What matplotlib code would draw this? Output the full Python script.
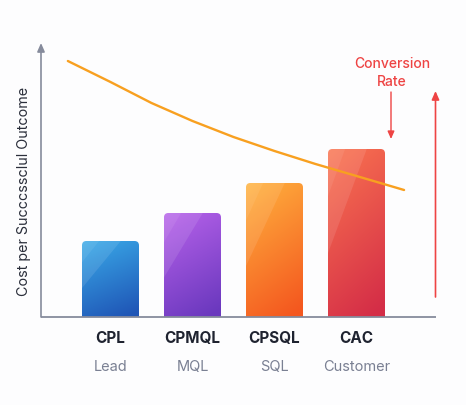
import numpy as np
import matplotlib
matplotlib.use("Agg")
import matplotlib.pyplot as plt
from matplotlib.patches import FancyBboxPatch, Polygon
from matplotlib.colors import to_rgb

# ---- data ----
categories = ["CPL", "CPMQL", "CPSQL", "CAC"]
stages = ["Lead", "MQL", "SQL", "Customer"]
costs = [76, 104, 134, 168]
top_colors = ["#3AAAE8", "#B762EA", "#FFB23E", "#FA7450"]
bottom_colors = ["#1F55B6", "#6A38BE", "#F4571F", "#D42D47"]
rate_x = [-0.52, 0.0, 0.5, 1.0, 1.5, 2.0, 2.5, 3.0, 3.58]
rate_y = [256, 235, 214, 196, 180, 166, 153, 141, 127]

plt.rcParams['font.family'] = ['Inter', 'DejaVu Sans']

W, H = 466, 406
fig = plt.figure(figsize=(W / 100, H / 100), dpi=100)
fig.patch.set_facecolor("#FDFDFE")
ax = fig.add_axes([41 / W, (H - 318) / H, 395 / W, 274 / H])
ax.set_facecolor("none")
px_per_unit = 82.0
x0 = -(110.5 - 41) / px_per_unit
ax.set_xlim(x0, x0 + 395 / px_per_unit)
ax.set_ylim(0, 274)
for s in ax.spines.values():
    s.set_visible(False)
ax.set_xticks([])
ax.set_yticks([])

xs = np.arange(len(categories))
bw = 57 / px_per_unit
bars = ax.bar(xs, costs, width=bw, color="none", edgecolor="none")

r_x = 4.5 / px_per_unit
aspect = 4.5 / r_x
for i, b in enumerate(bars):
    bx, by, w, h = b.get_x(), b.get_y(), b.get_width(), b.get_height()
    clip = FancyBboxPatch((bx, by - 10), w, h + 10,
                          boxstyle=f"round,pad=0,rounding_size={r_x}",
                          mutation_aspect=aspect, transform=ax.transData,
                          facecolor="none", edgecolor="none")
    ax.add_patch(clip)
    n = 100
    u = np.linspace(0, 1, n)[None, :]
    v = np.linspace(1, 0, n)[:, None]
    t = np.clip(0.8 * (1 - v) + 0.25 * u, 0, 1)
    c0 = np.array(to_rgb(top_colors[i]))
    c1 = np.array(to_rgb(bottom_colors[i]))
    img = c0[None, None, :] * (1 - t[..., None]) + c1[None, None, :] * t[..., None]
    im = ax.imshow(img, extent=(bx, bx + w, by, by + h), origin="upper",
                   aspect="auto", zorder=2, interpolation="bilinear")
    im.set_clip_path(clip)
    # light streaks
    p1 = Polygon([(bx, by + h), (bx + 0.68 * w, by + h), (bx, by + 0.38 * h)],
                 closed=True, facecolor="white", alpha=0.10, edgecolor="none", zorder=3)
    ax.add_patch(p1)
    p1.set_clip_path(clip)
    p2 = Polygon([(bx, by + h), (bx + 0.3 * w, by + h), (bx, by + 0.72 * h)],
                 closed=True, facecolor="white", alpha=0.07, edgecolor="none", zorder=3)
    ax.add_patch(p2)
    p2.set_clip_path(clip)

# axes lines
axis_col = "#868B9C"
ax.plot([x0, x0 + 395 / px_per_unit], [0, 0], color=axis_col, lw=1.3,
        clip_on=False, zorder=4, solid_capstyle="butt")
ax.annotate("", xy=(x0, 274), xytext=(x0, 0),
            arrowprops=dict(arrowstyle="-|>,head_length=0.5,head_width=0.22",
                            color=axis_col, lw=1.2, shrinkA=0, shrinkB=0),
            annotation_clip=False, zorder=4)

# conversion rate line
ax.plot(rate_x, rate_y, color="#F8A020", lw=1.7, zorder=5, clip_on=False,
        solid_capstyle="round")

# red arrows + text
red = "#EE4444"
xa = (391 - 110.5) / px_per_unit
ax.annotate("", xy=(xa, 178), xytext=(xa, 225),
            arrowprops=dict(arrowstyle="-|>,head_length=0.45,head_width=0.2",
                            color=red, lw=1.0, shrinkA=0, shrinkB=0),
            annotation_clip=False, zorder=6)
xb = (435.5 - 110.5) / px_per_unit
ax.annotate("", xy=(xb, 226), xytext=(xb, 20),
            arrowprops=dict(arrowstyle="-|>,head_length=0.5,head_width=0.22",
                            color=red, lw=1.2, shrinkA=0, shrinkB=0),
            annotation_clip=False, zorder=6)
fig.text(392 / W, 1 - 64 / H, "Conversion", color=red, fontsize=10,
         fontweight="medium", ha="center", va="center")
fig.text(392 / W, 1 - 82 / H, "Rate", color=red, fontsize=10,
         fontweight="medium", ha="center", va="center")

# category labels
for i in range(len(categories)):
    ax.text(xs[i], -(339 - 318), categories[i], fontsize=11, fontweight="bold",
            color="#1F2330", ha="center", va="center", clip_on=False)
    ax.text(xs[i], -(367 - 318), stages[i], fontsize=10.5, color="#7A8093",
            ha="center", va="center", clip_on=False)

fig.text(24 / W, 1 - 191 / H, "Cost per Succcssclul Outcome", rotation=90,
         fontsize=10.3, color="#2A2E3A", ha="center", va="center")

fig.savefig("out.png", dpi=100, facecolor=fig.get_facecolor())
